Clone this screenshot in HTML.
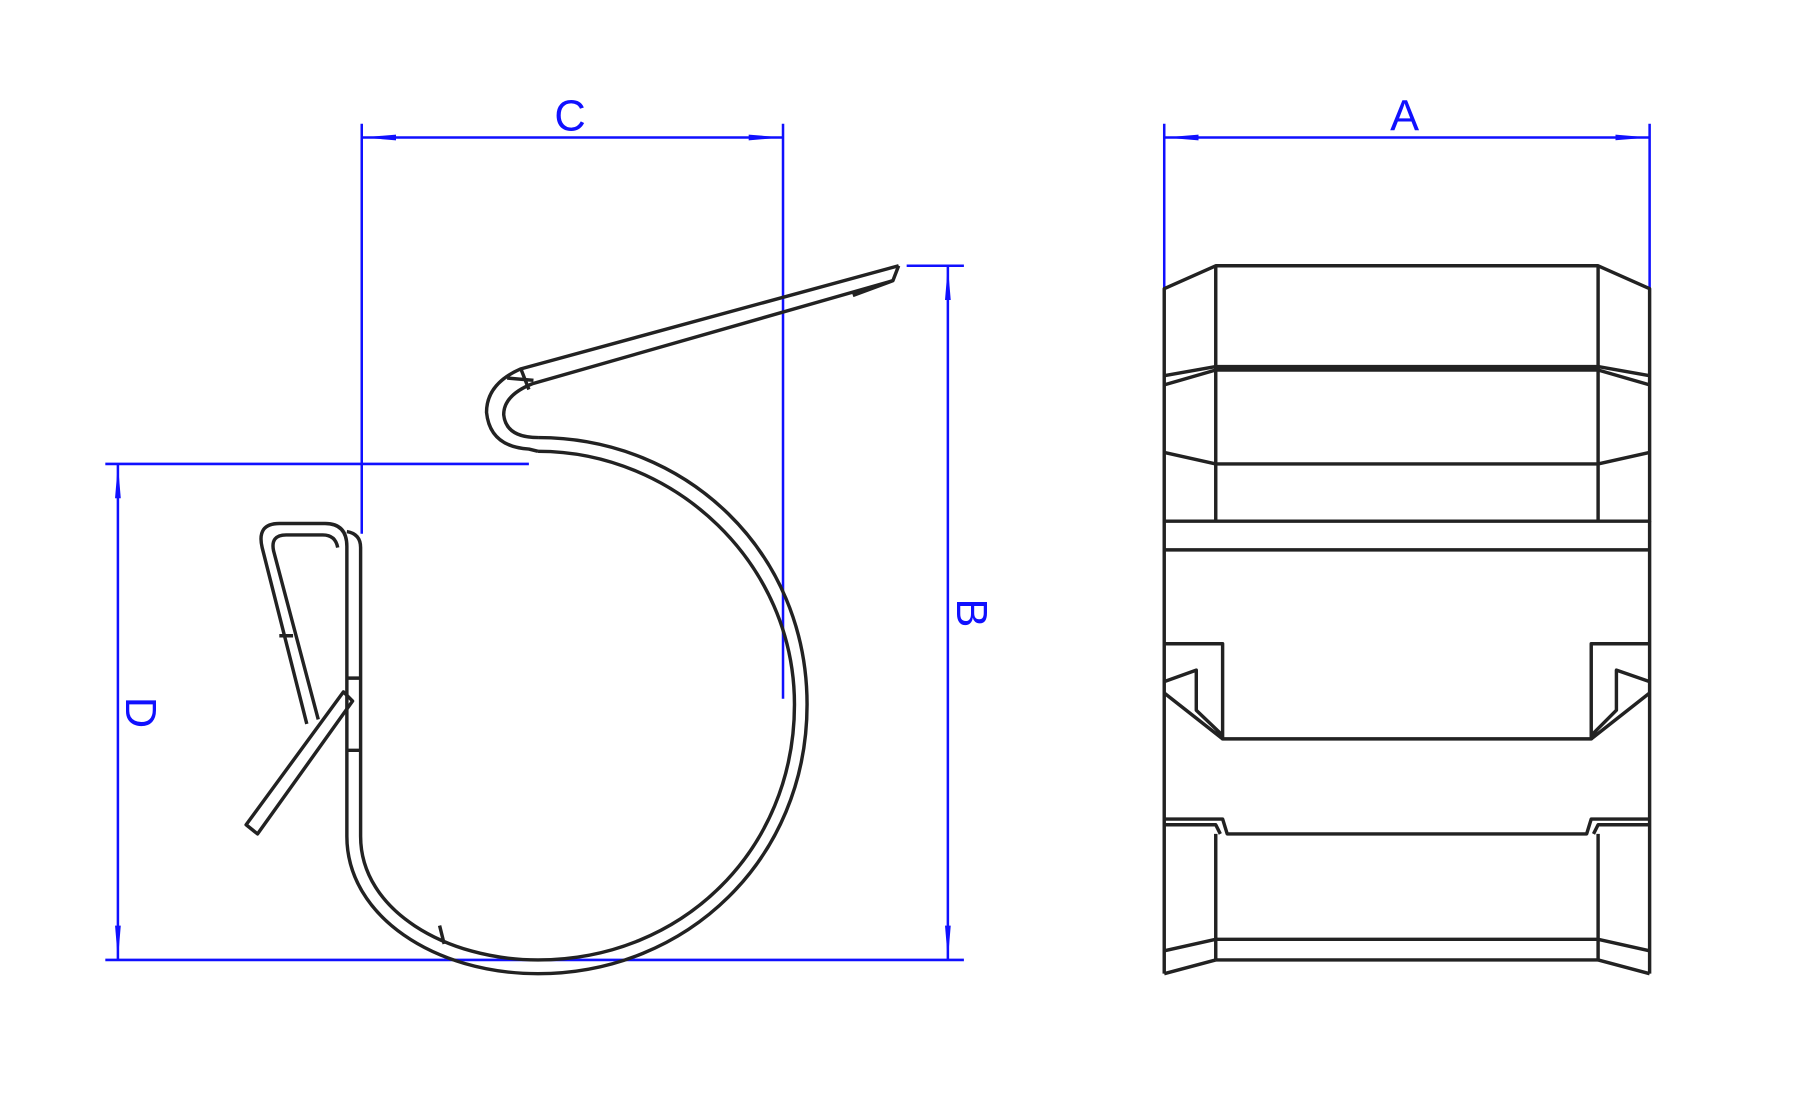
<!DOCTYPE html>
<html><head><meta charset="utf-8"><style>
html,body{margin:0;padding:0;background:#fff;width:1795px;height:1110px;overflow:hidden}
svg{display:block}
</style></head><body>
<svg width="1795" height="1110" viewBox="0 0 1568 969" preserveAspectRatio="none" xmlns="http://www.w3.org/2000/svg">
<defs>
<marker id="ar" viewBox="0 0 30 8" refX="30" refY="4" markerWidth="30" markerHeight="8" markerUnits="userSpaceOnUse" orient="auto-start-reverse">
<path d="M0,1.5 L30,4 L0,6.5 Z" fill="#1010ff"/></marker>
</defs>
<g stroke="#1010ff" stroke-width="2.2" fill="none">
<line x1="316" y1="120" x2="684" y2="120" marker-start="url(#ar)" marker-end="url(#ar)"/>
<line x1="316" y1="108" x2="316" y2="466"/>
<line x1="684" y1="108" x2="684" y2="610"/>
<line x1="1017" y1="120" x2="1441" y2="120" marker-start="url(#ar)" marker-end="url(#ar)"/>
<line x1="1017" y1="108" x2="1017" y2="252"/>
<line x1="1441" y1="108" x2="1441" y2="472"/>
<line x1="828" y1="232" x2="828" y2="838" marker-start="url(#ar)" marker-end="url(#ar)"/>
<line x1="792" y1="232" x2="842" y2="232"/>
<line x1="92" y1="838" x2="842" y2="838"/>
<line x1="103" y1="405" x2="103" y2="838" marker-start="url(#ar)" marker-end="url(#ar)"/>
<line x1="92" y1="405" x2="462" y2="405"/>
</g>
<g fill="#1010ff" font-family="Liberation Sans, sans-serif" font-size="38">
<text x="498" y="114" text-anchor="middle">C</text>
<text x="1227" y="114" text-anchor="middle">A</text>
<text transform="translate(836,535) rotate(90)" text-anchor="middle">B</text>
<text transform="translate(110,622) rotate(90)" text-anchor="middle">D</text>
</g>
<g stroke="#222" stroke-width="3" fill="none" stroke-linejoin="round">
<path d="M470,382 C600,382 705,482 705,615 C705,750 600,850 470,850 C380,850 303,800 303,730 L303,477 Q303,457 284,457 L244,457 Q224,457 229,478 L268,632"/>
<path d="M470,394 C590,394 694,492 694,615 C694,742 596,838 470,838 C390,838 315,795 315,730 L315,478 Q315,466 303,464"/>
<path d="M278,628 L239,481 Q236,467 250,467 L282,467 Q293,467 295,478"/>
<path d="M785,232 L455,322 Q425,335 425,360 Q428,390 462,392 L470,394"/>
<path d="M780,245 L465,335 Q440,345 440,362 Q442,382 470,382"/>
<path d="M785,232 L780,245 L745,258 M455,322 L462,340 M443,330 L466,332"/>
<path d="M300,604 L215,720 L225,728 L308,612 Z"/>
<path d="M384,808 L388,824 M244,555 L256,555 M303,592 L315,592 M303,655 L315,655"/>
<path d="M1017,252 L1062,232 L1396,232 L1441,252 L1441,455 L1017,455 Z"/>
<path d="M1062,232 L1062,455 M1396,232 L1396,455"/>
<path d="M1017,328 L1062,320 L1396,320 L1441,328 M1017,336 L1062,323 L1396,323 L1441,336"/>
<path d="M1017,395 L1062,405 L1396,405 L1441,395"/>
<path d="M1017,455 L1017,850 M1441,455 L1441,850 M1017,480 L1441,480"/>
<path d="M1017,562 L1068,562 L1068,645 L1390,645 L1390,562 L1441,562"/>
<path d="M1017,595 L1045,585 L1045,620 L1068,642 M1017,605 L1068,645"/>
<path d="M1441,595 L1412,585 L1412,620 L1390,642 M1441,605 L1390,645"/>
<path d="M1017,715 L1068,715 L1072,728 L1386,728 L1390,715 L1441,715 M1017,720 L1062,720 L1066,728 M1441,720 L1396,720 L1392,728"/>
<path d="M1062,728 L1062,838 M1396,728 L1396,838 M1062,820 L1396,820 M1062,838 L1396,838"/>
<path d="M1017,830 L1062,820 M1017,850 L1062,838 M1441,830 L1396,820 M1441,850 L1396,838"/>
</g>
</svg>
</body></html>
